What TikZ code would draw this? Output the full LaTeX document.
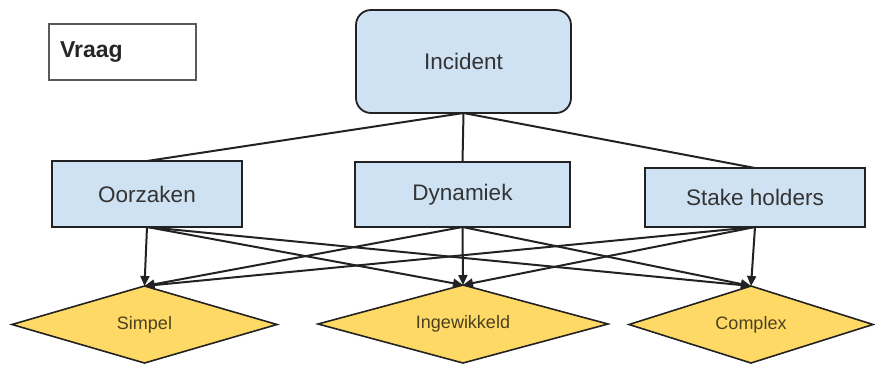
\documentclass[tikz,border=0pt]{standalone}
\usepackage{fontspec}
\setmainfont{Liberation Sans}
\usetikzlibrary{shapes.geometric,arrows.meta}
\definecolor{boxblue}{HTML}{CFE2F3}
\definecolor{decyellow}{HTML}{FFD966}
\definecolor{edge}{HTML}{222222}
\definecolor{boxtext}{HTML}{333333}
\definecolor{dectext}{HTML}{4A4020}
\begin{document}
\begin{tikzpicture}[x=1pt,y=-1pt,
  topicbox/.style={draw=edge, line width=1.8pt, fill=boxblue, inner sep=0pt, outer sep=0pt,
    text=boxtext, font=\fontsize{22.5}{26}\selectfont},
  decision/.style={diamond, aspect=4, draw=edge, line width=1.6pt, fill=decyellow, inner sep=0pt, outer sep=0pt,
    text=dectext, font=\fontsize{18}{21}\selectfont},
  link/.style={draw=edge, line width=2pt},
  arrowlink/.style={link, -{Triangle[length=10pt,width=9pt]}}]
  \useasboundingbox (0,0) rectangle (875,365);

  % legend box
  \node[draw=black!65, line width=1.8pt, minimum width=147pt, minimum height=56pt,
        text width=125pt, align=left, inner xsep=11pt, inner ysep=0pt,
        font=\bfseries\fontsize{23}{26}\selectfont, text=black!85] (vraag) at (122.5,52) {\raisebox{3pt}{Vraag}};

  % root
  \node[topicbox, rounded corners=15pt, minimum width=215pt, minimum height=103pt] (inc) at (463.5,61.5) {Incident};

  % aspects
  \node[topicbox, minimum width=190pt, minimum height=66pt] (oor) at (147,194) {Oorzaken};
  \node[topicbox, minimum width=215pt, minimum height=65pt] (dyn) at (462.5,194.5) {Dynamiek};
  \node[topicbox, minimum width=220pt, minimum height=59pt] (stk) at (755,197.5) {Stake holders};

  % complexity levels
  \node[decision, minimum width=265pt, minimum height=77pt] (sim) at (144.5,324.5) {Simpel};
  \node[decision, minimum width=290pt, minimum height=78pt] (ing) at (463,324) {Ingewikkeld};
  \node[decision, minimum width=244pt, minimum height=77pt] (cpx) at (751,324.5) {Complex};

  % root to aspects
  \draw[link] (inc.south) -- (oor.north);
  \draw[link] (inc.south) -- (dyn.north);
  \draw[link] (inc.south) -- (stk.north);

  % aspects to levels
  \foreach \src in {oor,dyn,stk}{
    \foreach \dst in {sim,ing,cpx}{
      \draw[arrowlink] (\src.south) -- (\dst.north);
    }
  }
\end{tikzpicture}
\end{document}
